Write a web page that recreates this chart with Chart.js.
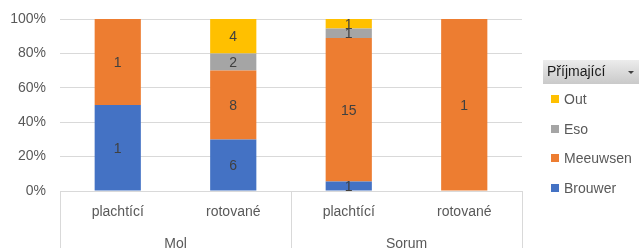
<!DOCTYPE html>
<html>
<head>
<meta charset="utf-8">
<script src="https://cdn.jsdelivr.net/npm/chart.js@4/dist/chart.umd.min.js"></script>
<style>
  html, body { margin: 0; padding: 0; background: #fff; }
  #wrap { width: 639px; height: 248px; position: relative; }
</style>
</head>
<body>
<div id="wrap"><canvas id="myChart"></canvas></div>
<script>
// categories (inner level) and their groups (outer level)
const categories = ['plachtící', 'rotované', 'plachtící', 'rotované'];
const groups = ['Mol', 'Sorum'];
const groupOf = [0, 0, 1, 1];

// counts per series
const brouwer = [1, 6, 1, 0];
const meeuwsen = [1, 8, 15, 1];
const eso = [0, 2, 1, 0];
const out = [0, 4, 1, 0];

const yTicks = ['0%', '20%', '40%', '60%', '80%', '100%'];
const legendTitle = 'Příjmající';

const FONT = '"Liberation Sans", Arial, sans-serif';

const series = [
  { label: 'Brouwer', counts: brouwer, color: '#4472C4' },
  { label: 'Meeuwsen', counts: meeuwsen, color: '#ED7D31' },
  { label: 'Eso', counts: eso, color: '#A5A5A5' },
  { label: 'Out', counts: out, color: '#FFC000' }
];

// 100% stacked: each column as share of its total
const totals = categories.map((c, i) => series.reduce((s, d) => s + d.counts[i], 0));

const datasets = series.map(s => ({
  label: s.label,
  data: s.counts.map((v, i) => v / totals[i] * 100),
  counts: s.counts,
  backgroundColor: s.color,
  borderWidth: 0,
  barPercentage: 0.4,
  categoryPercentage: 1
}));

const excelDecor = {
  id: 'excelDecor',
  afterDatasetsDraw(chart) {
    const ctx = chart.ctx;
    // data labels
    ctx.save();
    ctx.font = '14px ' + FONT;
    ctx.fillStyle = '#404040';
    ctx.textAlign = 'center';
    ctx.textBaseline = 'middle';
    chart.data.datasets.forEach((ds, di) => {
      const meta = chart.getDatasetMeta(di);
      meta.data.forEach((bar, i) => {
        const v = ds.counts[i];
        if (!v) return;
        const p = bar.getProps(['x', 'y', 'base'], true);
        ctx.fillText(String(v), p.x, (p.y + p.base) / 2 + 1);
      });
    });
    ctx.restore();
  },
  afterDraw(chart) {
    const ctx = chart.ctx;
    const area = chart.chartArea;
    const x = chart.scales.x;
    const H = chart.height;
    ctx.save();
    // multi-level category axis
    ctx.strokeStyle = '#d9d9d9';
    ctx.lineWidth = 1;
    const step = (area.right - area.left) / categories.length;
    const seps = [area.left];
    groups.forEach((g, gi) => {
      const idx = groupOf.map((v, i) => v === gi ? i : -1).filter(i => i >= 0);
      seps.push(area.left + step * (idx[idx.length - 1] + 1));
    });
    ctx.beginPath();
    ctx.moveTo(area.left, Math.round(area.bottom) + 0.5);
    ctx.lineTo(area.right, Math.round(area.bottom) + 0.5);
    seps.forEach(sx => {
      const px = Math.round(sx) + 0.5;
      ctx.moveTo(px, area.bottom);
      ctx.lineTo(px, H);
    });
    ctx.stroke();

    ctx.font = '14px ' + FONT;
    ctx.fillStyle = '#595959';
    ctx.textAlign = 'center';
    ctx.textBaseline = 'middle';
    categories.forEach((c, i) => {
      ctx.fillText(c, x.getPixelForValue(i), area.bottom + 21);
    });
    groups.forEach((g, gi) => {
      ctx.fillText(g, (seps[gi] + seps[gi + 1]) / 2, area.bottom + 53);
    });

    // legend with filter-button header
    const lx = 543, ly = 60, lw = 100, lh = 24;
    const grad = ctx.createLinearGradient(0, ly, 0, ly + lh);
    grad.addColorStop(0, '#ececec');
    grad.addColorStop(1, '#c9c9c9');
    ctx.fillStyle = grad;
    ctx.fillRect(lx, ly, lw, lh);
    ctx.fillStyle = '#1a1a1a';
    ctx.textAlign = 'left';
    ctx.fillText(legendTitle, 547, ly + lh / 2);
    ctx.beginPath();
    ctx.moveTo(628, 71);
    ctx.lineTo(634, 71);
    ctx.lineTo(631, 74);
    ctx.closePath();
    ctx.fillStyle = '#404040';
    ctx.fill();

    const items = series.slice().reverse();
    items.forEach((s, k) => {
      const cy = 99 + k * 29.7;
      ctx.fillStyle = s.color;
      ctx.fillRect(551, Math.round(cy) - 4, 8, 8);
      ctx.fillStyle = '#595959';
      ctx.fillText(s.label, 564, cy + 1);
    });
    ctx.restore();
  }
};

new Chart(document.getElementById('myChart').getContext('2d'), {
  type: 'bar',
  data: { labels: categories, datasets: datasets },
  options: {
    responsive: true,
    maintainAspectRatio: false,
    animation: false,
    layout: { padding: { top: 19, right: 117, left: 0, bottom: 0 } },
    plugins: { legend: { display: false }, tooltip: { enabled: false } },
    scales: {
      x: {
        stacked: true,
        grid: { display: false },
        border: { display: false },
        ticks: { display: false },
        afterFit: s => { s.height = 57; s.paddingLeft = 0; s.paddingRight = 0; }
      },
      y: {
        stacked: true,
        min: 0,
        max: 100,
        border: { display: false },
        grid: { color: '#d9d9d9', drawTicks: false },
        ticks: {
          stepSize: 20,
          padding: 14,
          color: '#595959',
          font: { family: FONT, size: 14 },
          callback: (v) => yTicks[Math.round(v / 20)]
        },
        afterFit: s => { s.width = 60; s.paddingTop = 0; s.paddingBottom = 0; }
      }
    }
  },
  plugins: [excelDecor]
});
</script>
</body>
</html>
